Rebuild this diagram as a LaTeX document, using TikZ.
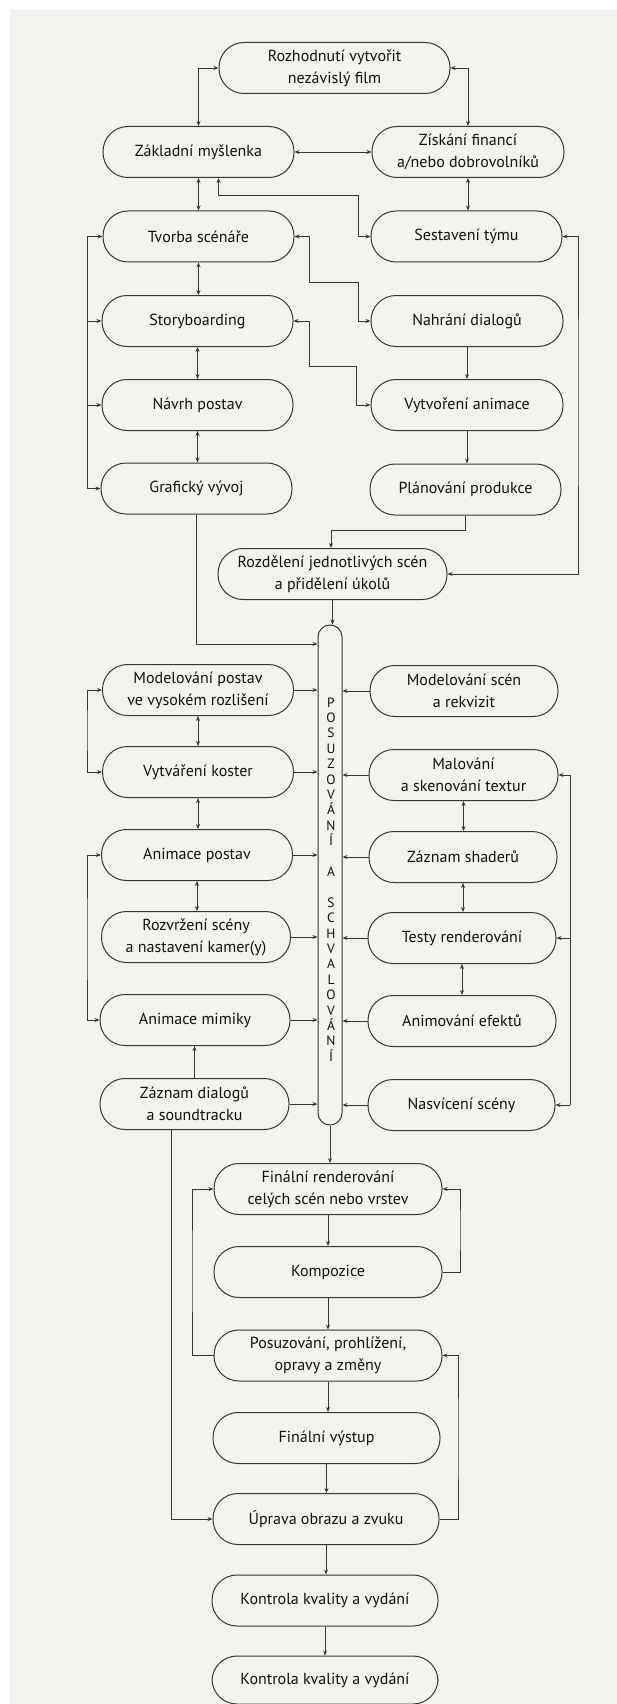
\documentclass[tikz,border=0pt]{standalone}
\usepackage{fontspec}
\setmainfont{PT Sans}
\usetikzlibrary{arrows.meta}
\definecolor{bgc}{HTML}{F4F2EE}
\definecolor{linec}{HTML}{363636}
\definecolor{textc}{HTML}{111111}
\tikzset{
  box/.style={draw=linec, line width=1pt, rounded corners=25pt, minimum height=51pt,
    minimum width=191pt, inner sep=0pt, align=center, fill=bgc, text=textc,
    font=\fontsize{16}{22}\selectfont},
  conn/.style={draw=linec, line width=0.9pt},
  >={Stealth[length=5pt,width=4pt]}
}
\begin{document}
\begin{tikzpicture}[x=1pt,y=-1pt]
\useasboundingbox (0,0) rectangle (617,1704);
\fill[white] (0,0) rectangle (617,1704);
\fill[bgc] (10,10) rectangle (617,1704);

% top part
\node[box, minimum width=231pt] (top) at (334.5,68) {Rozhodnutí vytvořit\\nezávislý film};
\node[box] (zakl) at (198.5,152) {Základní myšlenka};
\node[box, minimum width=192pt] (ziskani) at (468,152) {Získání financí\\a/nebo dobrovolníků};
\node[box] (tvorba) at (198.5,236.5) {Tvorba scénáře};
\node[box] (sestav) at (466.5,236.5) {Sestavení týmu};
\node[box] (story) at (197.5,321) {Storyboarding};
\node[box, minimum width=192pt] (nahrani) at (467,321) {Nahrání dialogů};
\node[box] (navrh) at (197.5,405) {Návrh postav};
\node[box, minimum width=192pt] (vytvor) at (467,405) {Vytvoření animace};
\node[box] (graf) at (196.5,488.5) {Grafický vývoj};
\node[box] (plan) at (465.5,489.5) {Plánování produkce};
\node[box, minimum width=229pt] (rozdel) at (332.5,574) {Rozdělení jednotlivých scén\\a přidělení úkolů};

% central bar
\node[draw=linec, line width=1pt, rounded corners=12pt, minimum width=24pt,
  minimum height=500pt, inner sep=0pt, fill=bgc] (bar) at (330,875) {};
\node[font=\fontsize{13.5}{15.4}\selectfont, align=center, inner sep=0pt, text=textc] (barlbl) at (331,879.5)
  {P\\O\\S\\U\\Z\\O\\V\\Á\\N\\Í\\\strut\\A\\\strut\\S\\C\\H\\V\\A\\L\\O\\V\\Á\\N\\Í};

% middle part
\node[box] (modpost) at (198,690) {Modelování postav\\ve vysokém rozlišení};
\node[box, minimum width=188pt] (modscen) at (464,691) {Modelování scén\\a rekvizit};
\node[box] (kostry) at (198,772) {Vytváření koster};
\node[box, minimum width=189pt] (malovani) at (463.5,775) {Malování\\a skenování textur};
\node[box] (anipost) at (197,855) {Animace postav};
\node[box, minimum width=188pt] (shader) at (463,857) {Záznam shaderů};
\node[box, minimum width=189pt] (rozvrz) at (196,937) {Rozvržení scény\\a nastavení kamer(y)};
\node[box, minimum width=188pt] (testy) at (462,938) {Testy renderování};
\node[box, minimum width=190pt] (mimika) at (195,1020) {Animace mimiky};
\node[box, minimum width=188pt] (efekty) at (462,1021) {Animování efektů};
\node[box, minimum width=189pt] (zaznam) at (194.5,1104) {Záznam dialogů\\a soundtracku};
\node[box, minimum width=187pt] (nasvic) at (461.5,1105) {Nasvícení scény};

% bottom part
\node[box, minimum width=228pt] (final) at (328,1189) {Finální renderování\\celých scén nebo vrstev};
\node[box, minimum width=228pt] (kompo) at (328,1272) {Kompozice};
\node[box, minimum width=228pt] (posuz) at (328,1355.5) {Posuzování, prohlížení,\\opravy a změny};
\node[box, minimum width=227pt] (vystup) at (326.5,1438) {Finální výstup};
\node[box, minimum width=226pt] (uprava) at (326,1519) {Úprava obrazu a zvuku};
\node[box, minimum width=226pt] (kontrola1) at (325,1600.5) {Kontrola kvality a vydání};
\node[box, minimum width=226pt, minimum height=48pt] (kontrola2) at (325,1680) {Kontrola kvality a vydání};

% helper coordinates
\coordinate (j1) at (358,195);
\coordinate (j2) at (309,282);
\coordinate (j3) at (358,282);
\coordinate (j4) at (309,366);
\coordinate (j5) at (356,366);
\coordinate (j6) at (331,530);
\coordinate (j7) at (0,644);
\coordinate (lb1) at (87,236.5);
\coordinate (lb2) at (87,488.5);
\coordinate (lb3) at (87,730);
\coordinate (lb4) at (87,940);
\coordinate (rb1) at (578,400);
\coordinate (rb2a) at (570,775);
\coordinate (rb2b) at (570,1105);
\coordinate (rl1) at (460,1230);
\coordinate (ll1) at (192,1270);
\coordinate (rl2) at (458,1440);

% connectors top
\draw[conn,<->] (zakl.north) |- (top.west);
\draw[conn,<->] (ziskani.north) |- (top.east);
\draw[conn,<->] (zakl.east) -- (ziskani.west);
\draw[conn,<->] (zakl.south) -- (tvorba.north);
\draw[conn,<->] (ziskani.south) -- (ziskani.south |- sestav.north);
\draw[conn,<->] ([xshift=20pt]zakl.south) |- (j1) |- (sestav.west);
\draw[conn,<->] (tvorba.east) -| (j2) -- (j3) |- (nahrani.west);
\draw[conn,<->] (story.east) -| (j4) -- (j5) |- (vytvor.west);
\draw[conn,<->] (tvorba.south) -- (tvorba.south |- story.north);
\draw[conn,<->] (story.south) -- (story.south |- navrh.north);
\draw[conn,<->] (navrh.south) -- (navrh.south |- graf.north);
\draw[conn,->] (nahrani.south) -- (nahrani.south |- vytvor.north);
\draw[conn,->] (vytvor.south) -- (vytvor.south |- plan.north);
\draw[conn,->] (plan.south) |- (j6) -- (j6 |- rozdel.north);
\draw[conn] (lb1) -- (lb2);
\draw[conn,->] (lb1) -- (tvorba.west);
\draw[conn,->] (story.west -| lb1) -- (story.west);
\draw[conn,->] (navrh.west -| lb1) -- (navrh.west);
\draw[conn,->] (lb2) -- (graf.west);
\draw[conn,<->] (sestav.east) -| (rb1) |- (rozdel.east);
\draw[conn,->] (graf.south) |- (bar.west |- j7);
\draw[conn,->] (rozdel.south) -- (rozdel.south |- bar.north);

% connectors middle
\foreach \n in {modpost,kostry,anipost,rozvrz,mimika,zaznam}
  \draw[conn,->] (\n.east) -- (\n.east -| bar.west);
\foreach \n in {modscen,malovani,shader,testy,efekty,nasvic}
  \draw[conn,->] (\n.west) -- (\n.west -| bar.east);
\draw[conn,<->] (modpost.west) -| (lb3) |- (kostry.west);
\draw[conn,<->] (anipost.west) -| (lb4) |- (mimika.west);
\draw[conn,<->] (modpost.south) -- (modpost.south |- kostry.north);
\draw[conn,<->] (kostry.south) -- (kostry.south |- anipost.north);
\draw[conn,<->] (anipost.south) -- (anipost.south |- rozvrz.north);
\draw[conn,->] (zaznam.north) -- (zaznam.north |- mimika.south);
\draw[conn,<->] (malovani.south) -- (malovani.south |- shader.north);
\draw[conn,<->] (shader.south) -- (shader.south |- testy.north);
\draw[conn,<->] (testy.south) -- (testy.south |- efekty.north);
\draw[conn] (rb2a) -- (rb2b);
\draw[conn,->] (rb2a) -- (malovani.east);
\draw[conn,->] (testy.east -| rb2a) -- (testy.east);
\draw[conn,->] (rb2b) -- (nasvic.east);

% connectors bottom
\draw[conn,->] (bar.south) -- (bar.south |- final.north);
\draw[conn,->] (final.south) -- (final.south |- kompo.north);
\draw[conn,->] (kompo.south) -- (kompo.south |- posuz.north);
\draw[conn,->] (posuz.south) -- (posuz.south |- vystup.north);
\draw[conn,->] (vystup.south) -- (vystup.south |- uprava.north);
\draw[conn,->] (uprava.south) -- (uprava.south |- kontrola1.north);
\draw[conn,->] (kontrola1.south) -- (kontrola1.south |- kontrola2.north);
\draw[conn,->] (kompo.east) -| (rl1) |- (final.east);
\draw[conn,->] (posuz.west) -| (ll1) |- (final.west);
\draw[conn,->] (uprava.east) -| (rl2) |- (posuz.east);
\draw[conn,->] ([xshift=-23.5pt]zaznam.south) |- (uprava.west);
\end{tikzpicture}
\end{document}
